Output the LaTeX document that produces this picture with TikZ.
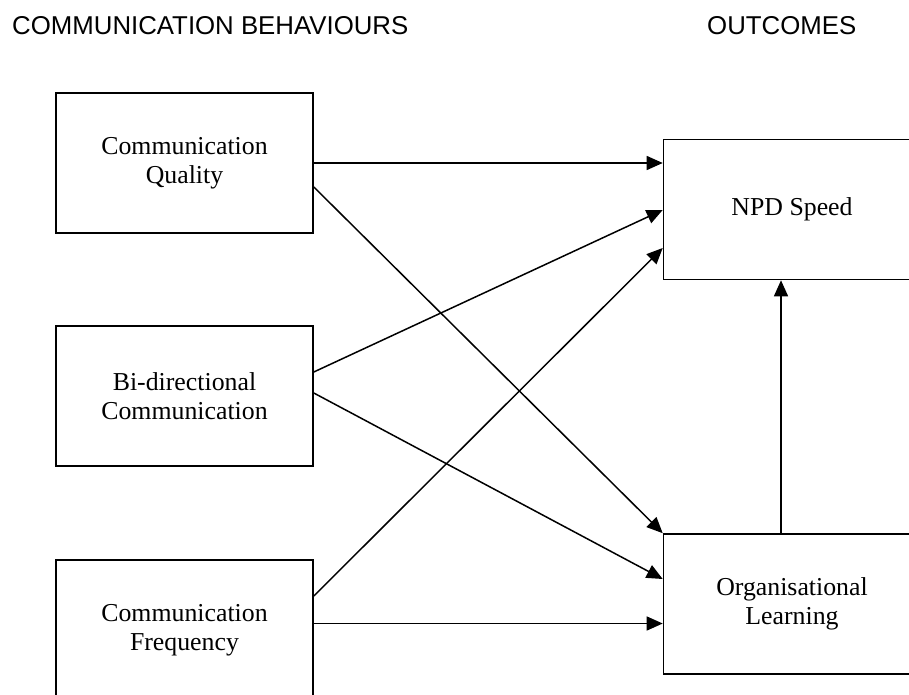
\documentclass[tikz,border=0pt]{standalone}
\usepackage{fontspec}
\setmainfont{Liberation Serif}
\newfontfamily\titlefont{Liberation Sans}
\usetikzlibrary{arrows.meta}
\begin{document}
\begin{tikzpicture}[x=1pt,y=-1pt,
  box/.style={draw, line width=1.6pt, minimum width=257pt, minimum height=140pt,
    inner sep=0pt, align=center, font=\fontsize{25.8}{29.5}\selectfont},
  ttl/.style={anchor=base west, inner sep=0pt, font=\titlefont\fontsize{25.8}{30}\selectfont},
  arr/.style={line width=1.5pt, -{Triangle[length=16pt,width=14pt]}}]
\useasboundingbox (0,0) rectangle (909,695);
\clip (0,0) rectangle (909,695);
\fill[white] (0,0) rectangle (909,695);
\node[ttl] (t1) at (12,35) {COMMUNICATION BEHAVIOURS};
\node[ttl] (t2) at (707,35) {OUTCOMES};
\node[box] (q) at (184.5,163) {Communication\\Quality};
\node[box] (b) at (184.5,396) {Bi-directional\\Communication};
\node[box] (f) at (184.5,630) {Communication\\Frequency};
\node[box] (s) at (792,209.5) {NPD Speed};
\node[box] (l) at (792,604) {Organisational\\Learning};
\draw[arr] (q.east |- 0,163) -- (s.west |- 0,163);
\draw[arr] (q.east |- 0,187) -- (l.north west);
\draw[arr] (b.east |- 0,372) -- (s.west |- 0,210);
\draw[arr] (b.east |- 0,393) -- (l.west |- 0,579);
\draw[arr] (f.east |- 0,596) -- (s.west |- 0,248);
\draw[arr] (f.east |- 0,623.5) -- (l.west |- 0,623.5);
\draw[arr] (l.north -| 781,0) -- (s.south -| 781,0);
\end{tikzpicture}
\end{document}
